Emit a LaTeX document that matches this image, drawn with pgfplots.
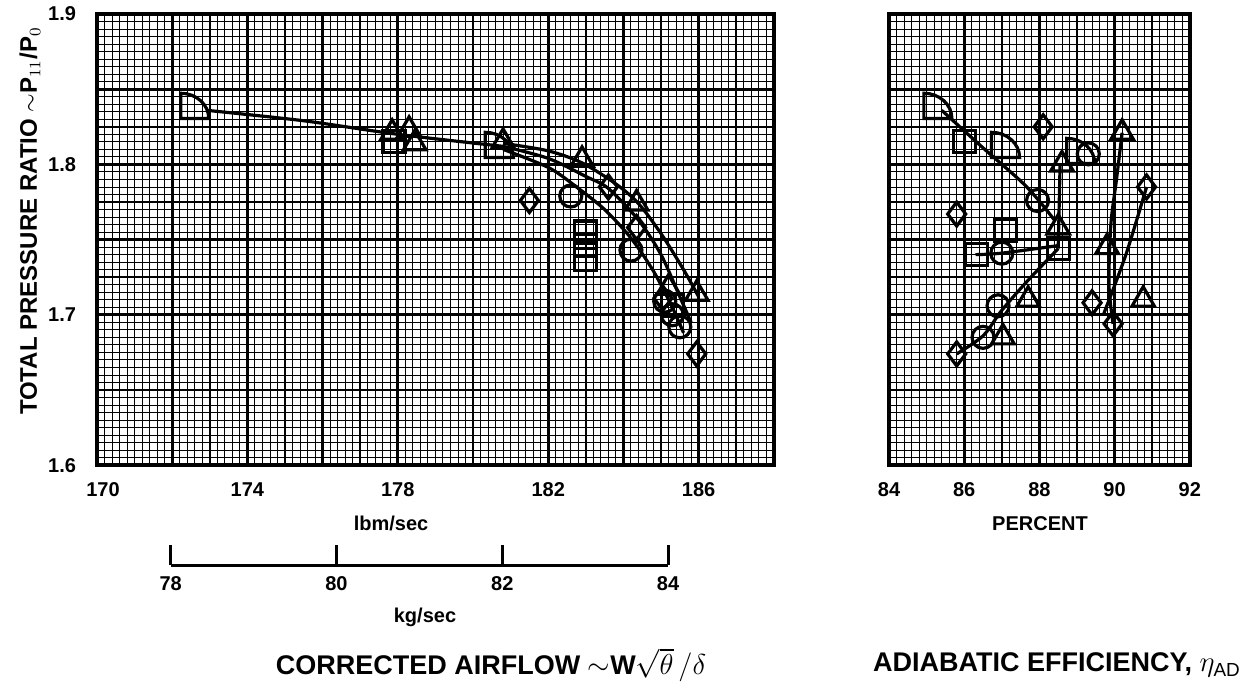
\documentclass[border=0pt]{standalone}
\usepackage{fontspec}
\setmainfont{Liberation Sans}
\usepackage{pgfplots}
\pgfplotsset{compat=1.18}

\pgfdeclareplotmark{dflag}{%
  \pgfpathmoveto{\pgfqpoint{-\pgfplotmarksize}{\pgfplotmarksize}}%
  \pgfpathlineto{\pgfqpoint{-\pgfplotmarksize}{-0.8\pgfplotmarksize}}%
  \pgfpathlineto{\pgfqpoint{\pgfplotmarksize}{-0.8\pgfplotmarksize}}%
  \pgfpathcurveto{\pgfqpoint{\pgfplotmarksize}{0.2\pgfplotmarksize}}{\pgfqpoint{0.1\pgfplotmarksize}{\pgfplotmarksize}}{\pgfqpoint{-\pgfplotmarksize}{\pgfplotmarksize}}%
  \pgfpathclose
  \pgfusepathqstroke
}

\pgfplotsset{
  paper/.style={
    scale only axis,
    anchor=south west,
    axis line style={line width=1.8pt},
    major tick length=0pt, minor tick length=0pt,
    tick style={draw=none},
    minor x tick num=9, minor y tick num=9,
    grid=both,
    major grid style={black, line width=1.35pt},
    minor grid style={black, line width=0.45pt},
    ymin=1.6, ymax=1.9,
    ytick={1.6,1.65,1.7,1.75,1.8,1.85,1.9},
    extra y ticks={1.625,1.675,1.725,1.775,1.825,1.875},
    extra y tick labels={},
    extra y tick style={grid=major, major grid style={black, line width=0.8pt}},
    extra x tick labels={},
    extra x tick style={grid=major, major grid style={black, line width=0.8pt}},
    /pgf/number format/assume math mode=true,
    tick label style={font=\fontsize{10}{12}\selectfont\bfseries},
    xticklabel style={yshift=-5pt},
    yticklabel style={xshift=-7pt},
    clip=false,
  },
  lin/.style={black, line width=1.6pt, no marks, smooth},
  pts/.style={black, only marks, line width=1.6pt, mark options={solid, line width=1.6pt}},
}

\begin{document}
\begin{tikzpicture}
\path[use as bounding box] (-48.5pt,-110.5pt) rectangle (574.5pt,232.6pt);

% ---------------- left: pressure ratio vs corrected airflow (lbm/sec)
\begin{axis}[paper, at={(0pt,0pt)},
  x=18.8pt, y=752pt,
  xmin=170, xmax=188,
  xtick={170,172,174,176,178,180,182,184,186,188},
  xticklabels={\hspace{6pt}170,,174,,178,,182,,186,},
  extra x ticks={171,173,175,177,179,181,183,185,187},
  yticklabels={1.6,,1.7,,1.8,,1.9},
]
% faired curves
\addplot[lin] coordinates {(172.9,1.836) (175.5,1.829) (178.0,1.820) (180.8,1.812)};
\addplot[lin] coordinates {(180.8,1.814) (182.0,1.809) (182.9,1.801) (183.8,1.787) (184.4,1.774) (185.0,1.754) (185.6,1.730) (186.0,1.712)};
\addplot[lin] coordinates {(180.8,1.812) (182.0,1.804) (183.0,1.792) (183.6,1.784) (184.4,1.763) (185.0,1.740) (185.5,1.712) (185.8,1.695)};
\addplot[lin] coordinates {(180.8,1.810) (182.0,1.798) (182.7,1.786) (183.5,1.770) (184.2,1.751) (184.8,1.729) (185.3,1.705) (185.6,1.688)};
% symbols
\addplot[pts, mark=dflag, mark size=7pt] coordinates {(172.6,1.838) (180.7,1.812)};
\addplot[pts, mark=triangle, mark size=6.5pt] coordinates {(177.85,1.821) (178.3,1.823) (178.45,1.814) (180.8,1.815) (182.9,1.803) (184.35,1.774) (185.95,1.714) (185.2,1.718)};
\addplot[pts, mark=square, mark size=5.5pt] coordinates {(177.9,1.815) (183.0,1.755) (183.0,1.746) (183.0,1.737) (185.3,1.706)};
\addplot[pts, mark=diamond, mark size=6pt] coordinates {(181.5,1.776) (183.6,1.785) (184.35,1.758) (185.95,1.674) (185.05,1.711)};
\addplot[pts, mark=o, mark size=5.5pt] coordinates {(182.6,1.779) (184.2,1.743) (185.5,1.692) (185.3,1.700) (185.1,1.709)};
\end{axis}

% ---------------- kg/sec scale
\begin{axis}[scale only axis, anchor=south west, at={(0pt,-50pt)},
  x=41.447pt, y=10pt, xmin=77.1109, xmax=85.2755, ymin=0, ymax=1,
  axis line style={draw=none}, ytick=\empty,
  xtick={78,80,82,84}, xtick pos=bottom, tick align=inside,
  major tick length=10pt, tick style={black, line width=1.5pt},
  /pgf/number format/assume math mode=true,
  tick label style={font=\fontsize{10}{12}\selectfont\bfseries},
  xticklabel style={yshift=-2pt},
  clip=false,
]
\addplot[black, line width=1.5pt, no marks] coordinates {(78,0) (84,0)};
\end{axis}

% ---------------- right: pressure ratio vs adiabatic efficiency
\begin{axis}[paper, at={(396pt,0pt)},
  x=18.8pt, y=752pt,
  xmin=84, xmax=92,
  xtick={84,86,88,90,92},
  extra x ticks={85,87,89,91},
  yticklabels={},
]
\addplot[lin] coordinates {(85.4,1.836) (86.5,1.811) (87.5,1.789) (87.95,1.777) (88.4,1.763)};
\addplot[lin] coordinates {(85.8,1.674) (86.5,1.686) (87.0,1.703) (87.7,1.723) (88.5,1.744)};
\addplot[lin, smooth=false] coordinates {(88.5,1.744) (88.55,1.800)};
\addplot[lin] coordinates {(86.3,1.740) (87.0,1.741) (88.5,1.746)};
\addplot[lin] coordinates {(89.96,1.694) (89.85,1.720) (89.9,1.760) (90.05,1.790) (90.2,1.821)};
\addplot[lin] coordinates {(89.7,1.700) (90.3,1.740) (90.85,1.785)};
\addplot[pts, mark=dflag, mark size=7pt] coordinates {(85.3,1.838) (87.1,1.812) (89.1,1.808)};
\addplot[pts, mark=square, mark size=5.5pt] coordinates {(86.0,1.815) (87.1,1.756) (86.33,1.740) (88.5,1.744)};
\addplot[pts, mark=diamond, mark size=6pt] coordinates {(88.1,1.825) (90.85,1.785) (85.8,1.767) (89.4,1.708) (89.96,1.694) (85.8,1.674)};
\addplot[pts, mark=triangle, mark size=6.5pt] coordinates {(88.6,1.800) (90.2,1.821) (88.5,1.758) (89.8,1.745) (87.7,1.710) (87.03,1.685) (90.76,1.710)};
\addplot[pts, mark=o, mark size=5.5pt] coordinates {(89.3,1.807) (87.95,1.776) (87.0,1.741) (86.9,1.706) (86.5,1.685)};
\end{axis}

% ---------------- texts
\node[rotate=90, font=\fontsize{12}{14}\selectfont\bfseries] at (-33.5pt,122pt) {TOTAL PRESSURE RATIO $\sim$P$_{11}$/P$_0$};
\node[font=\fontsize{10}{12}\selectfont\bfseries] at (147pt,-29pt) {lbm/sec};
\node[font=\fontsize{10}{12}\selectfont\bfseries] at (164pt,-76pt) {kg/sec};
\node[font=\fontsize{13.5}{15}\selectfont\bfseries] at (197pt,-100pt) {CORRECTED AIRFLOW $\sim$W$\sqrt{\theta}\,/\delta$};
\node[font=\fontsize{10}{12}\selectfont\bfseries] at (471.5pt,-29pt) {PERCENT};
\node[font=\fontsize{13.5}{15}\selectfont\bfseries] at (480pt,-100pt) {ADIABATIC EFFICIENCY, $\eta_{\mathrm{AD}}$};
\end{tikzpicture}
\end{document}
